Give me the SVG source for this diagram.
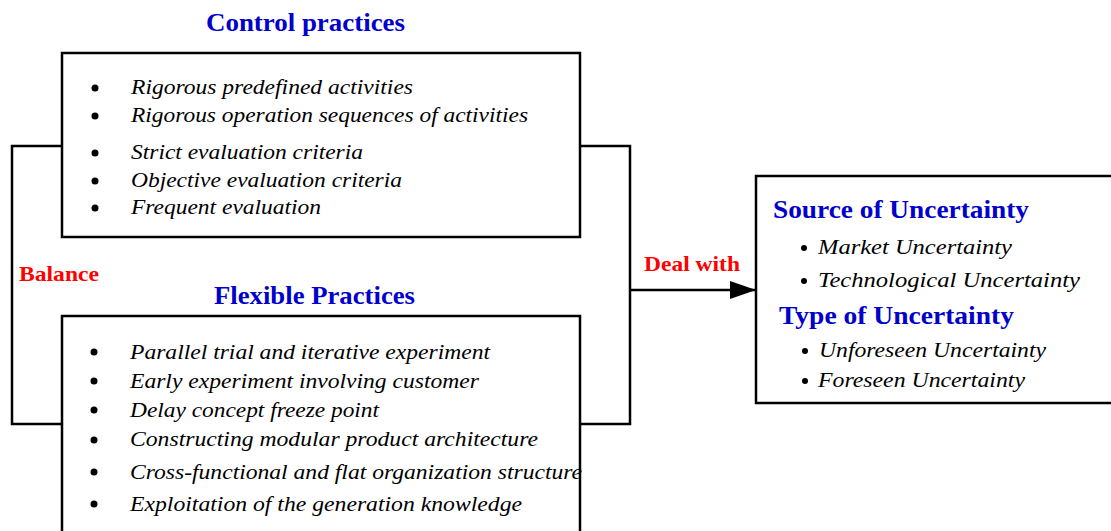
<svg xmlns="http://www.w3.org/2000/svg" width="1111" height="531" viewBox="0 0 1111 531">
<defs>
<style>
.box{fill:#fff;stroke:#000;stroke-width:2.5}
.ln{fill:none;stroke:#000;stroke-width:2.5}
.ttl{font-weight:bold;fill:#0000CC}
.red{font-weight:bold;fill:#FF0000;font-size:21px}
.it{font-style:italic;fill:#000;font-size:22px}
.bl{fill:#000}
</style>
<marker id="ah2" markerWidth="26" markerHeight="18" refX="26" refY="9" orient="auto" markerUnits="userSpaceOnUse" viewBox="0 0 26 18">
<path d="M0,0 L26,9 L0,18 Z" fill="#000"/>
</marker>
</defs>
<rect width="1111" height="531" fill="#fff"/>
<g id="connectors" font-family="Liberation Serif">
<polyline class="ln" points="62,146 12,146 12,424 62,424"/>
<polyline class="ln" points="580,146 630,146 630,424 580,424"/>
<line class="ln" x1="630" y1="290" x2="756" y2="290" marker-end="url(#ah2)"/>
<text class="red" x="19" y="281" textLength="80" lengthAdjust="spacingAndGlyphs">Balance</text>
<text class="red" x="644" y="271" textLength="96" lengthAdjust="spacingAndGlyphs">Deal with</text>
</g>
<g id="control" font-family="Liberation Serif">
<text class="ttl" x="206" y="31" font-size="26" textLength="199" lengthAdjust="spacingAndGlyphs">Control practices</text>
<rect class="box" x="62" y="53" width="518" height="184"/>
<circle class="bl" cx="95" cy="88" r="3.5"/>
<circle class="bl" cx="95" cy="116" r="3.5"/>
<circle class="bl" cx="95" cy="153" r="3.5"/>
<circle class="bl" cx="95" cy="181" r="3.5"/>
<circle class="bl" cx="95" cy="208" r="3.5"/>
<text class="it" x="131" y="94" textLength="282" lengthAdjust="spacingAndGlyphs">Rigorous predefined activities</text>
<text class="it" x="131" y="122" textLength="397" lengthAdjust="spacingAndGlyphs">Rigorous operation sequences of activities</text>
<text class="it" x="131" y="159" textLength="232" lengthAdjust="spacingAndGlyphs">Strict evaluation criteria</text>
<text class="it" x="131" y="187" textLength="271" lengthAdjust="spacingAndGlyphs">Objective evaluation criteria</text>
<text class="it" x="131" y="214" textLength="190" lengthAdjust="spacingAndGlyphs">Frequent evaluation</text>
</g>
<g id="flexible" font-family="Liberation Serif">
<text class="ttl" x="214" y="304" font-size="26" textLength="201" lengthAdjust="spacingAndGlyphs">Flexible Practices</text>
<rect class="box" x="62" y="316" width="518" height="240"/>
<circle class="bl" cx="94" cy="352" r="3.5"/>
<circle class="bl" cx="94" cy="381" r="3.5"/>
<circle class="bl" cx="94" cy="410" r="3.5"/>
<circle class="bl" cx="94" cy="440" r="3.5"/>
<circle class="bl" cx="94" cy="472" r="3.5"/>
<circle class="bl" cx="94" cy="504" r="3.5"/>
<text class="it" x="130" y="359" textLength="360" lengthAdjust="spacingAndGlyphs">Parallel trial and iterative experiment</text>
<text class="it" x="130" y="388" textLength="349" lengthAdjust="spacingAndGlyphs">Early experiment involving customer</text>
<text class="it" x="130" y="417" textLength="249" lengthAdjust="spacingAndGlyphs">Delay concept freeze point</text>
<text class="it" x="130" y="446" textLength="408" lengthAdjust="spacingAndGlyphs">Constructing modular product architecture</text>
<text class="it" x="130" y="479" textLength="452" lengthAdjust="spacingAndGlyphs">Cross-functional and flat organization structure</text>
<text class="it" x="130" y="511" textLength="392" lengthAdjust="spacingAndGlyphs">Exploitation of the generation knowledge</text>
</g>
<g id="uncertainty" font-family="Liberation Serif">
<rect class="box" x="756" y="176" width="370" height="227"/>
<text class="ttl" x="773" y="218" font-size="25" textLength="256" lengthAdjust="spacingAndGlyphs">Source of Uncertainty</text>
<circle class="bl" cx="804" cy="248" r="3"/>
<text class="it" x="818" y="254" textLength="194" lengthAdjust="spacingAndGlyphs">Market  Uncertainty</text>
<circle class="bl" cx="804" cy="281" r="3"/>
<text class="it" x="818" y="287" textLength="262" lengthAdjust="spacingAndGlyphs">Technological  Uncertainty</text>
<text class="ttl" x="779" y="324" font-size="25" textLength="235" lengthAdjust="spacingAndGlyphs">Type of Uncertainty</text>
<circle class="bl" cx="805" cy="351" r="3"/>
<text class="it" x="819" y="357" textLength="227" lengthAdjust="spacingAndGlyphs">Unforeseen Uncertainty</text>
<circle class="bl" cx="805" cy="381" r="3"/>
<text class="it" x="818" y="387" textLength="207" lengthAdjust="spacingAndGlyphs">Foreseen Uncertainty</text>
</g>
</svg>
